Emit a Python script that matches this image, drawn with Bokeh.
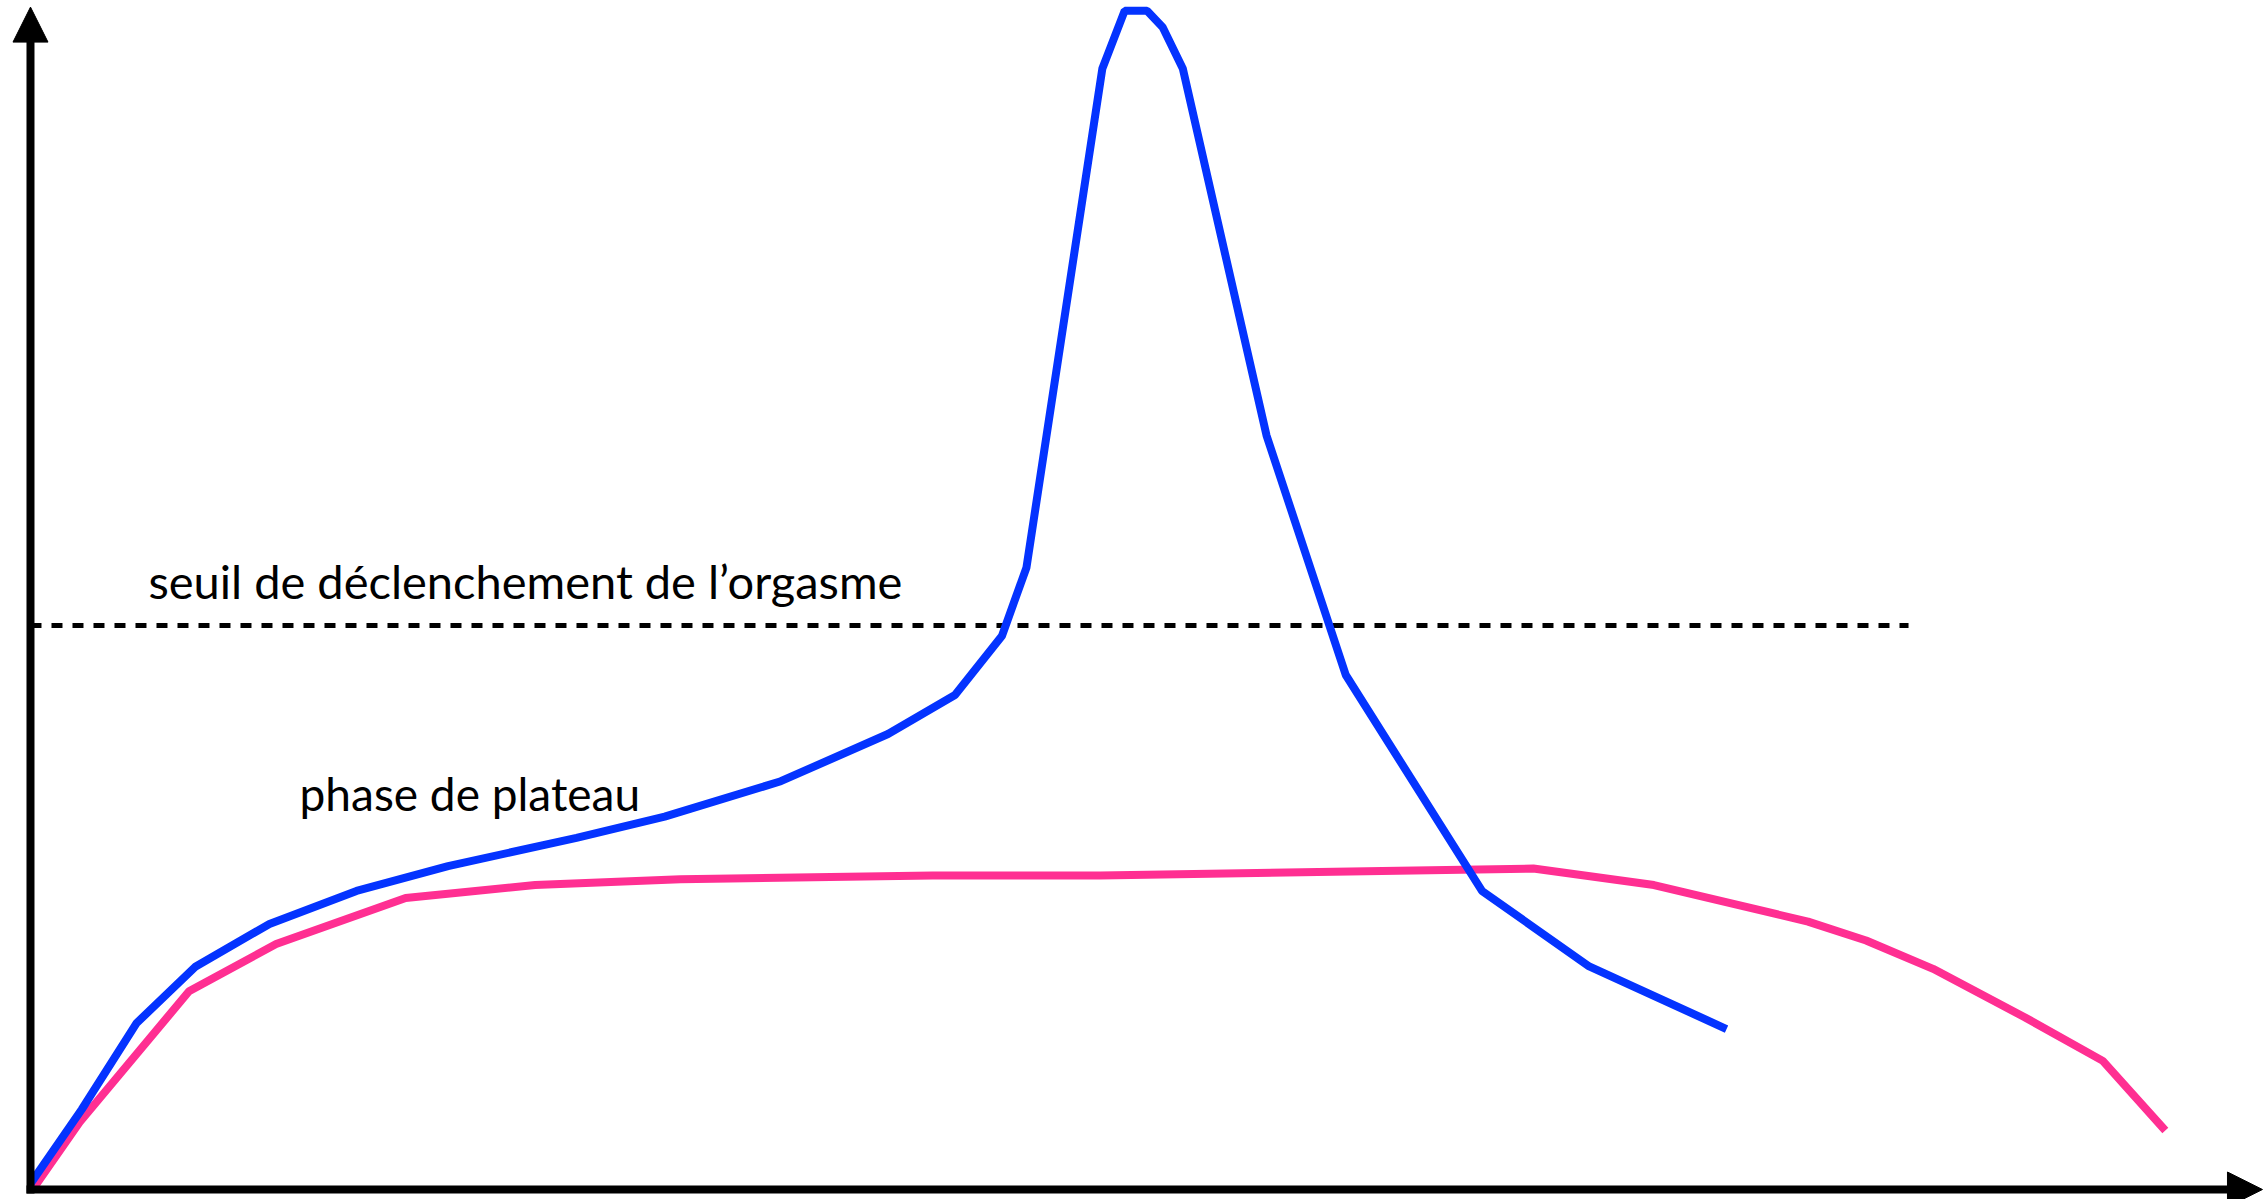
from bokeh.plotting import figure
from bokeh.models import Range1d, Arrow, NormalHead, Label
from bokeh.embed import file_html
from bokeh.resources import INLINE

# --- data (arbitrary units: time 0..100, arousal 0..100) ---
male_x = [0, 2.3, 4.75, 7.4, 10.7, 14.6, 18.7, 24.45, 28.4, 33.6, 38.4, 41.4, 43.5, 44.6,
          48.0, 49.0, 50.0, 50.7, 51.6, 55.35, 58.9, 65.0, 69.8, 75.95]
male_y = [0.5, 6.8, 14.1, 18.9, 22.5, 25.3, 27.4, 29.8, 31.6, 34.6, 38.6, 41.9, 46.9, 52.7,
          95.0, 99.9, 99.9, 98.5, 95.0, 63.9, 43.6, 25.3, 18.9, 13.6]

female_x = [0.1, 2.2, 7.1, 11.0, 16.8, 22.6, 29.1, 40.4, 47.9, 67.3, 72.7, 79.6, 82.2, 85.2,
            89.3, 92.8, 95.6]
female_y = [0, 5.7, 16.8, 20.8, 24.7, 25.8, 26.3, 26.6, 26.6, 27.2, 25.8, 22.7, 21.1, 18.7,
            14.6, 10.9, 5.0]

threshold_y = 47.8
threshold_x = [0, 84.1]

labels = ["seuil de déclenchement de l’orgasme", "phase de plateau"]

# --- figure ---
W, H = 2268, 1199
p = figure(width=W, height=H, output_backend="svg", toolbar_location=None,
           x_range=Range1d(-1.343, 100.22), y_range=Range1d(-0.847, 100.76),
           min_border=0)
p.axis.visible = False
p.grid.visible = False
p.outline_line_color = None
p.background_fill_color = "white"
p.border_fill_color = "white"

BLUE = "#0433FF"
PINK = "#FF2F92"

p.line(threshold_x, [threshold_y, threshold_y], line_color="black", line_width=5,
       line_dash="11 10")
p.line(female_x, female_y, line_color=PINK, line_width=8)
p.line(male_x, male_y, line_color=BLUE, line_width=8)

# axes with arrowheads
p.add_layout(Arrow(x_start=0, y_start=-0.34, x_end=0, y_end=100.2,
                   line_width=8, line_color="black",
                   end=NormalHead(size=35, fill_color="black", line_color="black", line_width=1)))
p.add_layout(Arrow(x_start=-0.18, y_start=0, x_end=99.95, y_end=0,
                   line_width=8, line_color="black",
                   end=NormalHead(size=35, fill_color="black", line_color="black", line_width=1)))

p.add_layout(Label(x=5.28, y=51.6, text=labels[0], text_font="Lato", text_font_size="47px",
                   text_color="black", text_baseline="alphabetic"))
p.add_layout(Label(x=12.05, y=33.6, text=labels[1], text_font="Lato", text_font_size="46px",
                   text_color="black", text_baseline="alphabetic"))

open("out.html", "w").write(file_html(p, INLINE))
